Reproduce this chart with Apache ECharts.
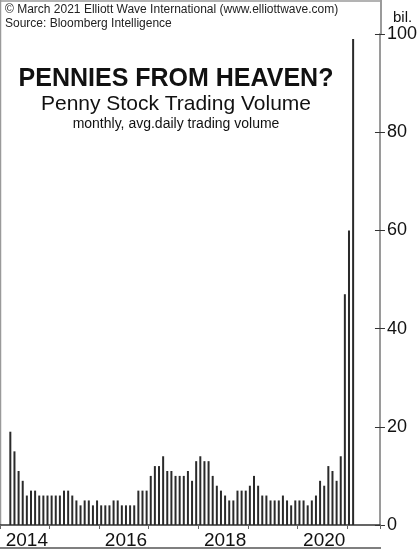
<!DOCTYPE html>
<html>
<head>
<meta charset="utf-8">
<script src="https://cdn.jsdelivr.net/npm/echarts@6/dist/echarts.min.js"></script>
<style>
  html, body { margin: 0; padding: 0; background: #fff; }
  #chart { width: 420px; height: 550px; }
</style>
</head>
<body>
<div id="chart"></div>
<script>
// penny stock trading volume, monthly avg. daily volume (bil.), Mar 2014 - Feb 2021
const startYear = 2014, startMonth = 3;
const volume = [
  19, 15, 11, 9, 6, 7, 7, 6, 6, 6,            // 2014 Mar-Dec
  6, 6, 6, 7, 7, 6, 5, 4, 5, 5, 4, 5,         // 2015
  4, 4, 4, 5, 5, 4, 4, 4, 4, 7, 7, 7,         // 2016
  10, 12, 12, 14, 11, 11, 10, 10, 10, 11, 9, 13, // 2017
  14, 13, 13, 10, 8, 7, 6, 5, 5, 7, 7, 7,     // 2018
  8, 10, 8, 6, 6, 5, 5, 5, 6, 5, 4, 5,        // 2019
  5, 5, 4, 5, 6, 9, 8, 12, 11, 9, 14, 47,     // 2020
  60, 99                                      // 2021 Jan-Feb
];
const yearLabels = ['2014', '2016', '2018', '2020'];
const yTicks = [0, 20, 40, 60, 80, 100];

// axis runs Jan 2014 .. Aug 2021
const months = [];
for (let y = 2014; y <= 2021; y++) {
  for (let m = 1; m <= 12; m++) {
    if (y === 2021 && m > 8) break;
    months.push(y + '-' + (m < 10 ? '0' + m : m));
  }
}
const offset = months.indexOf(startYear + '-0' + startMonth);
const barData = months.map((d, i) => {
  const k = i - offset;
  return k >= 0 && k < volume.length ? volume[k] : null;
});

const font = '"Liberation Sans", Arial, sans-serif';
const myChart = echarts.init(document.getElementById('chart'));

const option = {
  animation: false,
  backgroundColor: '#fff',
  textStyle: { fontFamily: font },
  grid: { left: 0, right: 39, top: 34, bottom: 24, containLabel: false },
  xAxis: {
    type: 'category',
    data: months,
    boundaryGap: true,
    axisLine: { lineStyle: { color: '#333', width: 1.5 } },
    axisTick: {
      show: true,
      length: 4,
      interval: (i, v) => v.slice(5) === '01',
      lineStyle: { color: '#666', width: 1 }
    },
    axisLabel: {
      interval: (i, v) => v.slice(5) === '07' && yearLabels.indexOf(v.slice(0, 4)) >= 0,
      formatter: v => v.slice(0, 4),
      fontSize: 19,
      color: '#111',
      margin: 6,
      fontFamily: font
    },
    splitLine: { show: false }
  },
  yAxis: [
    {
      type: 'value',
      position: 'right',
      min: yTicks[0],
      max: yTicks[yTicks.length - 1],
      interval: 20,
      axisLine: { show: true, lineStyle: { color: '#9a9a9a', width: 2 } },
      axisTick: { show: true, inside: false, length: 5, lineStyle: { color: '#333', width: 1 } },
      axisLabel: { fontSize: 18, color: '#111', margin: 7, fontFamily: font },
      splitLine: { show: false }
    },
    {
      type: 'value',
      position: 'right',
      min: yTicks[0],
      max: yTicks[yTicks.length - 1],
      interval: 20,
      axisLine: { show: false },
      axisTick: { show: true, inside: true, length: 5, lineStyle: { color: '#333', width: 1 } },
      axisLabel: { show: false },
      splitLine: { show: false }
    }
  ],
  series: [
    {
      type: 'bar',
      data: barData,
      barWidth: 2,
      itemStyle: { color: '#2a2a2a' },
      silent: true
    }
  ],
  graphic: [
    // frame
    { type: 'line', shape: { x1: 0, y1: 1, x2: 381, y2: 1 }, style: { stroke: '#9a9a9a', lineWidth: 1.5 } },
    { type: 'line', shape: { x1: 381, y1: 0, x2: 381, y2: 34 }, style: { stroke: '#9a9a9a', lineWidth: 2 } },
    { type: 'line', shape: { x1: 0.5, y1: 0, x2: 0.5, y2: 526 }, style: { stroke: '#9a9a9a', lineWidth: 1.5 } },
    { type: 'line', shape: { x1: 0, y1: 548, x2: 381, y2: 548 }, style: { stroke: '#555', lineWidth: 1.5 } },
    // texts
    { type: 'text', x: 5, y: 10, style: { text: '© March 2021 Elliott Wave International (www.elliottwave.com)', font: '12px ' + font, fill: '#222', textVerticalAlign: 'middle' } },
    { type: 'text', x: 5, y: 24, style: { text: 'Source: Bloomberg Intelligence', font: '12px ' + font, fill: '#222', textVerticalAlign: 'middle' } },
    { type: 'text', x: 176, y: 79, style: { text: 'PENNIES FROM HEAVEN?', font: 'bold 25px ' + font, fill: '#111', textAlign: 'center', textVerticalAlign: 'middle' } },
    { type: 'text', x: 176, y: 104, style: { text: 'Penny Stock Trading Volume', font: '21px ' + font, fill: '#111', textAlign: 'center', textVerticalAlign: 'middle' } },
    { type: 'text', x: 176, y: 124, style: { text: 'monthly, avg.daily trading volume', font: '14px ' + font, fill: '#111', textAlign: 'center', textVerticalAlign: 'middle' } },
    { type: 'text', x: 393, y: 18, style: { text: 'bil.', font: '15px ' + font, fill: '#111', textVerticalAlign: 'middle' } }
  ]
};

myChart.setOption(option, (window.onresize = myChart.resize));
</script>
</body>
</html>
